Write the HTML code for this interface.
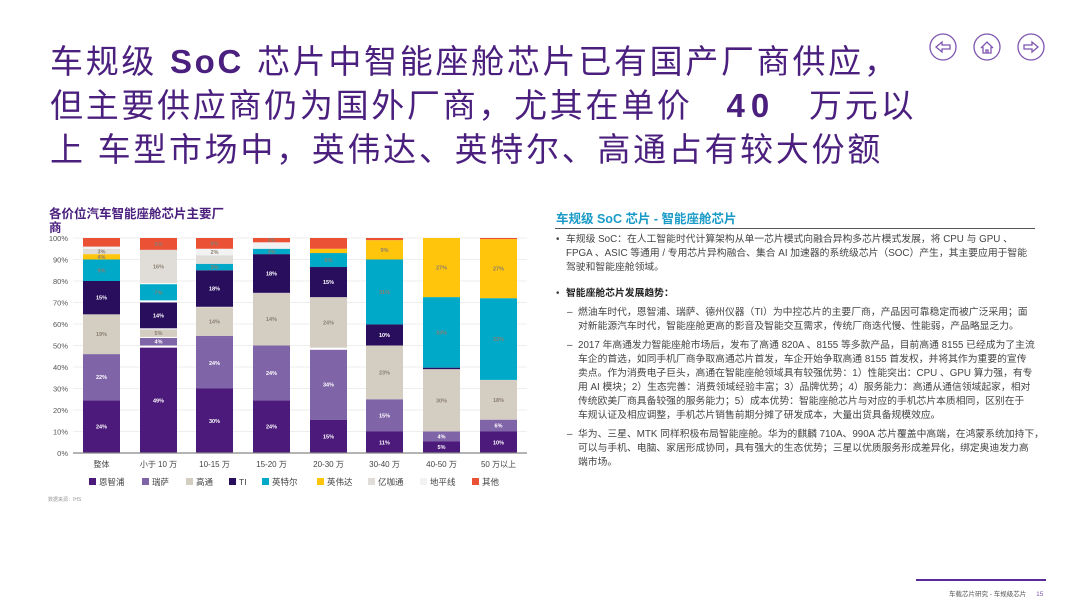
<!DOCTYPE html>
<html><head><meta charset="utf-8"><style>
body{margin:0;width:1080px;height:611px;background:#fff;position:relative;overflow:hidden;font-family:"Liberation Sans","Noto Sans CJK SC",sans-serif}
.t{position:absolute;left:50px;top:40px;color:#4b1f7e;font-size:33px;line-height:44px;letter-spacing:2.7px;font-family:"Liberation Sans","Noto Sans CJK SC",sans-serif;white-space:nowrap}
.r{position:absolute;font-size:9.8px;color:#444;white-space:nowrap;line-height:14px}
</style></head><body>
<div class="t">车规级 <b style="margin:0 1px">SoC</b> 芯片中智能座舱芯片已有国产厂商供应，<br>但主要供应商仍为国外厂商，尤其在单价 <b style="margin:0 22px;letter-spacing:6px">40</b> 万元以<br>上 车型市场中，英伟达、英特尔、高通占有较大份额</div>
<svg style="position:absolute;left:928px;top:33px" width="130" height="30">
<g fill="none" stroke="#7e55b0" stroke-width="1.3">
<circle cx="15" cy="14" r="13"/><circle cx="59" cy="14" r="13"/><circle cx="103" cy="14" r="13"/>
<path d="M8 14 L14 9 L14 12 L22 12 L22 16 L14 16 L14 19 Z"/>
<path d="M53 15 L59 9 L65 15 M55 14 L55 20 L63 20 L63 14 M58 20 L58 17 L60 17 L60 20"/>
<path d="M110 14 L104 9 L104 12 L96 12 L96 16 L104 16 L104 19 Z"/>
</g></svg>
<div style="position:absolute;left:49px;top:207px;font-size:12.5px;font-weight:bold;color:#4b1f7e;line-height:14px;width:200px">各价位汽车智能座舱芯片主要厂<br>商</div>
<svg style="position:absolute;left:0;top:0" width="540" height="511" font-family="Liberation Sans,Noto Sans CJK SC,sans-serif">
<g id="chart"></g>
</svg>
<script>
var N='#4b1a7a',R='#8064a8',Q='#d4cdc2',T='#2a0e5e',I='#00a9c8',V='#ffc40c',Y='#e0ddd8',H='#f2f2f2',O='#eb5135';
var y=p=>453-2.15*p, s='';
for(var i=0;i<=10;i++){s+='<line x1="73" x2="527" y1="'+y(i*10)+'" y2="'+y(i*10)+'" stroke="#e8e8e8" stroke-width="0.8"/>';
s+='<text x="68" y="'+(y(i*10)+3)+'" font-size="7.5" fill="#555" text-anchor="end">'+i*10+'%</text>';}
var xs=[83,140,196,253,310,366,423,480];
var D=[
[[0,24.5,N,'24%'],[24.5,46,R,'22%'],[46,64.5,Q,'19%'],[64.5,80,T,'15%'],[80,90,I,'9%'],[90,92.5,V,'4%'],[92.5,95,Y,'3%'],[95,96,H,''],[96,100,O,'']],
[[0,49,N,'49%'],[50,53.5,R,'4%'],[54,57.5,Q,'5%'],[58,70,T,'14%'],[71,78.5,I,'7%'],[79,94.5,Y,'16%'],[94.5,100,O,'6%']],
[[0,30,N,'30%'],[30,53.5,R,'24%'],[53.5,54.5,R,''],[54.5,67.8,Q,'14%'],[68,85,T,'18%'],[85,88,I,'3%'],[88,92,Y,''],[92,95,H,'2%'],[95,100,O,'6%']],
[[0,24.5,N,'24%'],[24.5,50,R,'24%'],[50,74.5,Q,'14%'],[74.5,92.5,T,'18%'],[92.5,95,I,'3%'],[95,98,H,''],[98,100,O,'2%']],
[[0,15.5,N,'15%'],[15.5,48,R,'34%'],[49,72.5,Q,'24%'],[72.5,86.5,T,'15%'],[86.5,93,I,'6%'],[93,95,V,''],[95,100,O,'']],
[[0,10,N,'11%'],[10,25,R,'15%'],[25,50,Q,'23%'],[50,59.8,T,'10%'],[59.8,90,I,'31%'],[90,99,V,'9%'],[99,100,O,'']],
[[0,5.5,N,'5%'],[5.5,10,R,'4%'],[10,39,Q,'30%'],[39,39.7,T,''],[39.7,72.5,I,'33%'],[72.5,100,V,'27%']],
[[0,10,N,'10%'],[10,15.5,R,'6%'],[15.5,34,Q,'18%'],[34,72,I,'33%'],[72,99.5,V,'27%'],[99.5,100,O,'']]];
D.forEach((b,j)=>b.forEach(g=>{var t=y(g[1]),h=y(g[0])-t;
s+='<rect x="'+xs[j]+'" y="'+t+'" width="37" height="'+h+'" fill="'+g[2]+'"/>';
if(g[3]){var dk=(g[2]==N||g[2]==R||g[2]==T);s+='<text x="'+(xs[j]+18.5)+'" y="'+(t+h/2+2)+'" font-size="5.5" font-weight="bold" text-anchor="middle" fill="'+(dk?'#fff':'#8a7f70')+'">'+g[3]+'</text>';}}));
s+='<line x1="73" x2="527" y1="453" y2="453" stroke="#888" stroke-width="1.2"/>';
['整体','小于 10 万','10-15 万','15-20 万','20-30 万','30-40 万','40-50 万','50 万以上'].forEach((c,j)=>s+='<text x="'+(xs[j]+18.5)+'" y="467" font-size="8" fill="#444" text-anchor="middle">'+c+'</text>');
var L=[[89,N,'恩智浦'],[142,R,'瑞萨'],[186,Q,'高通'],[229,T,'TI'],[262,I,'英特尔'],[317,V,'英伟达'],[368,Y,'亿咖通'],[420,H,'地平线'],[472,O,'其他']];
L.forEach(l=>{s+='<rect x="'+l[0]+'" y="478" width="7" height="7" fill="'+l[1]+'"/><text x="'+(l[0]+10)+'" y="485" font-size="8.5" fill="#444">'+l[2]+'</text>';});
s+='<text x="48" y="501" font-size="5" fill="#999">数据来源：IHS</text>';
document.getElementById('chart').innerHTML=s;
</script>
<div style="position:absolute;left:556px;top:208px;font-size:12.5px;font-weight:bold;color:#1a9bc7">车规级 SoC 芯片 - 智能座舱芯片</div>
<div style="position:absolute;left:555px;top:228px;width:480px;height:1px;background:#555"></div>
<div class="r" style="left:556px;top:233px">•</div>
<div class="r" style="left:566px;top:233px">车规级 SoC：在人工智能时代计算架构从单一芯片模式向融合异构多芯片模式发展，将 CPU 与 GPU 、</div>
<div class="r" style="left:566px;top:247px">FPGA 、ASIC 等通用 / 专用芯片异构融合、集合 AI 加速器的系统级芯片（SOC）产生，其主要应用于智能</div>
<div class="r" style="left:566px;top:261px">驾驶和智能座舱领域。</div>
<div class="r" style="left:556px;top:287px">•</div>
<div class="r" style="left:566px;top:287px;font-weight:bold;color:#222">智能座舱芯片发展趋势：</div>
<div class="r" style="left:567px;top:306px">–</div>
<div class="r" style="left:578px;top:306px">燃油车时代，恩智浦、瑞萨、德州仪器（TI）为中控芯片的主要厂商，产品因可靠稳定而被广泛采用；面</div>
<div class="r" style="left:578px;top:320px">对新能源汽车时代，智能座舱更高的影音及智能交互需求，传统厂商迭代慢、性能弱，产品略显乏力。</div>
<div class="r" style="left:567px;top:339px">–</div>
<div class="r" style="left:578px;top:339px">2017 年高通发力智能座舱市场后，发布了高通 820A 、8155 等多款产品，目前高通 8155 已经成为了主流</div>
<div class="r" style="left:578px;top:353px">车企的首选，如同手机厂商争取高通芯片首发，车企开始争取高通 8155 首发权，并将其作为重要的宣传</div>
<div class="r" style="left:578px;top:367px">卖点。作为消费电子巨头，高通在智能座舱领域具有较强优势：1）性能突出：CPU 、GPU 算力强，有专</div>
<div class="r" style="left:578px;top:381px">用 AI 模块；2）生态完善：消费领域经验丰富；3）品牌优势；4）服务能力：高通从通信领域起家，相对</div>
<div class="r" style="left:578px;top:395px">传统欧美厂商具备较强的服务能力；5）成本优势：智能座舱芯片与对应的手机芯片本质相同，区别在于</div>
<div class="r" style="left:578px;top:409px">车规认证及相应调整，手机芯片销售前期分摊了研发成本，大量出货具备规模效应。</div>
<div class="r" style="left:567px;top:428px">–</div>
<div class="r" style="left:578px;top:428px">华为、三星、MTK 同样积极布局智能座舱。华为的麒麟 710A、990A 芯片覆盖中高端，在鸿蒙系统加持下，</div>
<div class="r" style="left:578px;top:442px">可以与手机、电脑、家居形成协同，具有强大的生态优势；三星以优质服务形成差异化，绑定奥迪发力高</div>
<div class="r" style="left:578px;top:456px">端市场。</div>
<div style="position:absolute;left:916px;top:579px;width:130px;height:2px;background:#5a2a9a"></div>
<div style="position:absolute;left:949px;top:588px;font-size:6.5px;color:#555">车载芯片研究 - 车规级芯片 <span style="color:#7e55b0;margin-left:8px">15</span></div>
</body></html>
